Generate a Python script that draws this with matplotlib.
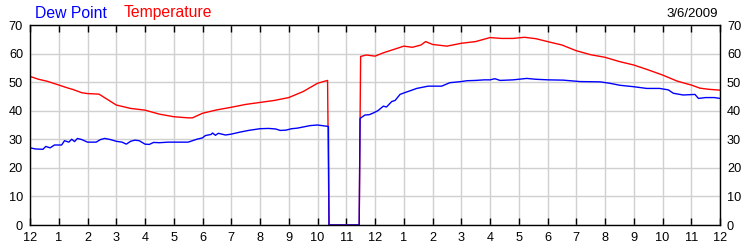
import matplotlib
matplotlib.use("Agg")
import matplotlib.pyplot as plt

plt.rcParams['font.family'] = ['Liberation Sans', 'DejaVu Sans']

# Hours since midnight; readings of 0 mark the missing-data gap
temp_hours = [0, 0.3, 0.6, 1.0, 1.3, 1.5, 1.8, 2.0, 2.4, 3.0, 3.5, 4.0, 4.5, 5.0,
              5.5, 5.65, 6.0, 6.5, 7.0, 7.5, 8.0, 8.5, 9.0, 9.5, 10.0, 10.35,
              10.4, 11.45, 11.5, 11.7, 12.0, 12.3, 12.7, 13.0, 13.3, 13.6, 13.76,
              14.0, 14.5, 15.0, 15.5, 16.0, 16.4, 16.8, 17.2, 17.6, 18.0, 18.5,
              19.0, 19.5, 20.0, 20.5, 21.0, 21.5, 22.0, 22.5, 22.85, 23.0, 23.3,
              23.6, 24.0]
temperature = [52, 51, 50.3, 49, 48, 47.4, 46.3, 46, 45.8, 42, 40.8, 40.2, 38.8, 37.9,
               37.5, 37.5, 39.1, 40.3, 41.2, 42.2, 42.9, 43.6, 44.6, 46.7, 49.6, 50.6,
               0, 0, 59, 59.5, 59.1, 60.3, 61.6, 62.6, 62.2, 63, 64.2,
               63.2, 62.6, 63.6, 64.2, 65.6, 65.3, 65.3, 65.7, 65.2, 64.2, 63,
               61, 59.6, 58.7, 57.2, 56, 54.3, 52.5, 50.4, 49.4, 49.0, 47.9,
               47.5, 47.2]

dew_hours = [0, 0.2, 0.45, 0.55, 0.7, 0.85, 1.0, 1.1, 1.2, 1.35, 1.45, 1.55, 1.65,
             1.8, 2.0, 2.3, 2.45, 2.6, 2.8, 3.0, 3.2, 3.35, 3.5, 3.65, 3.8, 4.0,
             4.15, 4.3, 4.5, 4.8, 5.5, 5.8, 6.0, 6.1, 6.3, 6.35, 6.45, 6.55, 6.8,
             7.0, 7.3, 7.6, 8.0, 8.3, 8.55, 8.7, 8.9, 9.1, 9.3, 9.5, 9.75, 10.0,
             10.3, 10.38, 10.4, 11.45, 11.48, 11.65, 11.8, 11.94, 12.1, 12.29,
             12.4, 12.58, 12.7, 12.87, 13.0, 13.2, 13.45, 13.85, 14.0, 14.32,
             14.6, 15.0, 15.2, 15.5, 15.8, 16.0, 16.17, 16.35, 16.8, 17.28, 17.6,
             18.03, 18.55, 19.13, 19.83, 20.17, 20.52, 21.0, 21.45, 21.9, 22.2,
             22.38, 22.72, 23.13, 23.25, 23.5, 23.8, 24.0]
dew_point = [27, 26.6, 26.5, 27.5, 27, 28, 28, 28, 29.5, 29, 30, 29.2, 30.3,
             29.9, 29, 29, 29.9, 30.3, 29.9, 29.3, 29, 28.3, 29.3, 29.7, 29.5, 28.3,
             28.2, 28.9, 28.8, 29, 29, 30, 30.5, 31.3, 31.7, 32.2, 31.4, 32.1, 31.5,
             31.8, 32.5, 33.1, 33.7, 33.8, 33.6, 33.1, 33.2, 33.7, 33.9, 34.3, 34.8, 35,
             34.6, 34.5, 0, 0, 37.3, 38.5, 38.6, 39.2, 40, 41.6,
             41.3, 43.2, 43.6, 45.7, 46.2, 46.9, 47.8, 48.6, 48.6, 48.6,
             49.8, 50.2, 50.5, 50.6, 50.8, 50.8, 51.2, 50.6, 50.8, 51.3, 51,
             50.8, 50.7, 50.2, 50.1, 49.6, 48.9, 48.4, 47.8, 47.8, 47.3,
             46.1, 45.5, 45.7, 44.3, 44.6, 44.6, 44.3]

hour_labels = ['12', '1', '2', '3', '4', '5', '6', '7', '8', '9', '10', '11',
               '12', '1', '2', '3', '4', '5', '6', '7', '8', '9', '10', '11', '12']
y_ticks = [0, 10, 20, 30, 40, 50, 60, 70]

fig = plt.figure(figsize=(7.5, 2.5), dpi=100)
ax = fig.add_axes([30 / 750, 25 / 250, 690 / 750, 200 / 250])

ax.plot(temp_hours, temperature, color='#ff0000', linewidth=1.0)
ax.plot(dew_hours, dew_point, color='#0000ff', linewidth=1.0)

ax.set_xlim(0, 24)
ax.set_ylim(0, 70)
ax.set_xticks(range(25))
ax.set_xticklabels(hour_labels)
ax.set_yticks(y_ticks)

ax.grid(True, color='#d0d0d0', linewidth=1.0)
ax.set_axisbelow(True)

for spine in ax.spines.values():
    spine.set_color('black')
    spine.set_linewidth(1.0)

ax.tick_params(axis='x', direction='in', length=5, width=1, top=True,
               labelsize=9.2, pad=5, colors='black')
ax.tick_params(axis='y', direction='in', length=0, left=True, right=True,
               labelleft=True, labelright=True, labelsize=9.2, pad=5)

fig.text(35 / 750, 0.93, 'Dew Point', color='#0000ff', fontsize=11.3, va='baseline')
fig.text(124 / 750, 0.93, 'Temperature', color='#ff0000', fontsize=11.3, va='baseline')
fig.text(718 / 750, 0.933, '3/6/2009', color='black', fontsize=9.5,
         ha='right', va='baseline')

fig.savefig('out.png', dpi=100)
